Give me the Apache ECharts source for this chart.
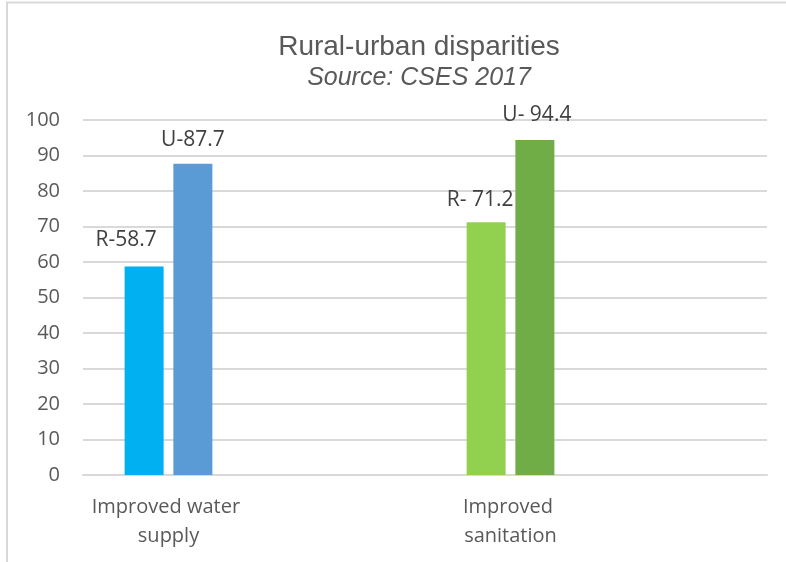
<!DOCTYPE html>
<html>
<head>
<meta charset="utf-8">
<script src="https://cdn.jsdelivr.net/npm/echarts@6/dist/echarts.min.js"></script>
<style>
  html, body { margin: 0; padding: 0; background: #ffffff; }
  #chart { width: 786px; height: 562px; }
</style>
</head>
<body>
<div id="chart"></div>
<script>
// Categories (two spacer slots keep the Excel-style spacing)
const categories = ['Improved water supply', '', 'Improved sanitation', ''];

// Rural and urban values per category
const ruralValues = [58.7, null, 71.2, null];
const urbanValues = [87.7, null, 94.4, null];

// Label prefixes as written on the chart
const ruralPrefix = ['R-', '', 'R- ', ''];
const urbanPrefix = ['U-', '', 'U- ', ''];

// Bar colours per category
const ruralColors = ['#00B0F0', null, '#92D050', null];
const urbanColors = ['#5B9BD5', null, '#70AD47', null];

// Label nudges (hand-placed labels)
const ruralLabelOffset = [[-18, -16], null, [-6, -12], null];
const urbanLabelOffset = [[0, -13], null, [2, -14], null];

const yTicks = { min: 0, max: 100, interval: 10 };

const FONT = '"Open Sans", "Noto Sans", sans-serif';
const TITLE_FONT = '"Liberation Sans", Arial, sans-serif';

function buildData(values, colors, prefixes, offsets) {
  return values.map((v, i) => {
    if (v === null) return null;
    return {
      value: v,
      itemStyle: { color: colors[i] },
      label: {
        show: true,
        position: 'top',
        distance: 0,
        offset: offsets[i],
        formatter: prefixes[i] + v.toFixed(1)
      }
    };
  });
}

const chart = echarts.init(document.getElementById('chart'), null, { renderer: 'canvas' });

chart.setOption({
  backgroundColor: '#ffffff',
  animation: false,
  title: {
    text: 'Rural-urban disparities',
    subtext: 'Source: CSES 2017',
    left: 419,
    top: 33,
    textAlign: 'center',
    padding: 0,
    itemGap: 5,
    textStyle: {
      fontFamily: TITLE_FONT,
      fontSize: 28,
      lineHeight: 28,
      fontWeight: 'normal',
      color: '#595959'
    },
    subtextStyle: {
      fontFamily: TITLE_FONT,
      fontSize: 25,
      lineHeight: 25,
      fontStyle: 'italic',
      color: '#595959'
    }
  },
  graphic: [{
    type: 'rect',
    silent: true,
    shape: { x: 7, y: 2.5, width: 900, height: 700 },
    style: { fill: 'none', stroke: '#D9D9D9', lineWidth: 2 }
  }],
  grid: {
    left: 83,
    right: 19,
    top: 120,
    bottom: 87,
    containLabel: false
  },
  xAxis: {
    type: 'category',
    data: categories,
    axisLine: { show: true, lineStyle: { color: '#D9D9D9', width: 2 } },
    axisTick: { show: false },
    axisLabel: {
      interval: 0,
      margin: 18,
      color: '#595959',
      fontFamily: FONT,
      fontSize: 20,
      lineHeight: 29,
      width: 165,
      overflow: 'break'
    }
  },
  yAxis: {
    type: 'value',
    min: yTicks.min,
    max: yTicks.max,
    interval: yTicks.interval,
    axisLine: { show: false },
    axisTick: { show: false },
    splitLine: { lineStyle: { color: '#D9D9D9', width: 2 } },
    axisLabel: {
      margin: 23,
      color: '#595959',
      fontFamily: FONT,
      fontSize: 20
    }
  },
  series: [
    {
      name: 'Rural',
      type: 'bar',
      barWidth: 39,
      barGap: '25%',
      data: buildData(ruralValues, ruralColors, ruralPrefix, ruralLabelOffset),
      label: { color: '#404040', fontFamily: FONT, fontSize: 21 }
    },
    {
      name: 'Urban',
      type: 'bar',
      barWidth: 39,
      barGap: '25%',
      data: buildData(urbanValues, urbanColors, urbanPrefix, urbanLabelOffset),
      label: { color: '#404040', fontFamily: FONT, fontSize: 21 }
    }
  ]
});
</script>
</body>
</html>
